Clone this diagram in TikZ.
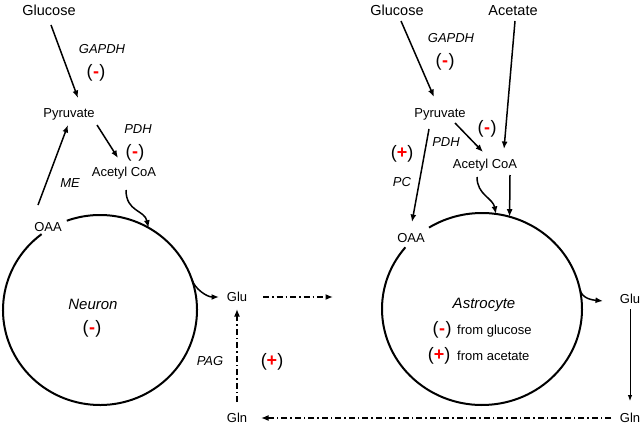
\documentclass[tikz,border=0pt]{standalone}
\usepackage{fontspec}
\setmainfont{Liberation Sans}
\usetikzlibrary{arrows.meta,calc}
\newcommand\sgnminus{(\kern0.5pt\textcolor{red}{\textbf{-}}\kern0.5pt)}
\newcommand\sgnplus{(\textcolor{red}{\textbf{+}})}
\tikzset{
  lbl/.style={inner sep=0pt, text height=9.4pt, text depth=0pt, font=\fontsize{13}{15}\selectfont},
  big/.style={inner sep=0pt, text height=10.4pt, text depth=0pt, font=\fontsize{14.5}{17}\selectfont},
  enz/.style={inner sep=0pt, text height=9.4pt, text depth=0pt, font=\fontsize{13}{15}\selectfont\itshape},
  cell/.style={inner sep=0pt, text height=10.8pt, text depth=0pt, font=\fontsize{15}{18}\selectfont\itshape},
  sgn/.style={inner sep=0pt, text height=13.1pt, text depth=3.8pt, font=\fontsize{18}{20}\selectfont},
  arr/.style={-{Latex[length=7.5pt,width=6pt]}, line width=1.5pt},
  thinarr/.style={-{Latex[length=6pt,width=4.5pt]}, line width=0.9pt},
  cyc/.style={line width=2pt},
  dd/.style={arr, dash pattern=on 6pt off 3pt on 1.5pt off 3pt}
}
\begin{document}
\begin{tikzpicture}[x=1pt,y=1pt]
\useasboundingbox (0,0) rectangle (644,-425);
% ---------------- Neuron ----------------
\node[big] (gluL) at (49,-10) {Glucose};
\node[enz] (gapdhL) at (102,-49) {GAPDH};
\node[sgn] (sL1) at (96,-73) {\sgnminus};
\node[lbl] (pyrL) at (69,-113) {Pyruvate};
\node[enz] (pdhL) at (138,-129) {PDH};
\node[sgn] (sL2) at (135,-153) {\sgnminus};
\node[lbl] (acoaL) at (124,-172) {Acetyl CoA};
\node[enz] (meL) at (70,-183) {ME};
\node[lbl] (oaaL) at (48,-227) {OAA};
\node[cell] (neuron) at (93,-304) {Neuron};
\node[sgn] (sL3) at (92,-329) {\sgnminus};
\node[lbl] (gluN) at (237,-297) {Glu};
\node[enz] (pag) at (210,-361) {PAG};
\node[sgn] (sL4) at (272,-362) {\sgnplus};
\node[lbl] (glnN) at (237,-418) {Gln};
\coordinate (nc) at (100,-310);
\coordinate (gluOut) at (333,-297);

\draw[cyc] ($(nc)+(127:97 and 95)$) arc[start angle=127, end angle=470, x radius=97, y radius=95];

\draw[arr] ([shift={(2,-15)}]gluL.center) -- ([shift={(9,15)}]pyrL.center);
\draw[arr] ([shift={(28,-12)}]pyrL.center) -- ([shift={(-6,14)}]acoaL.center);
\draw[arr] ([shift={(-10,22)}]oaaL.center) -- ([shift={(-1,-12)}]pyrL.center);
\draw[arr] ([shift={(2,-18)}]acoaL.center) .. controls +(0,-22) and +(-4,18) .. ($(nc)+(60:97 and 95)$);
\draw[arr] ($(nc)+(19:97 and 95)$) .. controls +(3,-10) and +(-12,0) .. ([xshift=-18]gluN.center);
\draw[dd] ([xshift=26]gluN.center) -- (gluOut);
\draw[dd] ([yshift=16]glnN.center) -- ([yshift=-12]gluN.center);

% ---------------- Astrocyte ----------------
\node[big] (gluR) at (397,-10) {Glucose};
\node[big] (acetR) at (513,-10) {Acetate};
\node[enz] (gapdhR) at (451,-38) {GAPDH};
\node[sgn] (sR1) at (445,-62) {\sgnminus};
\node[lbl] (pyrR) at (440,-113) {Pyruvate};
\node[sgn] (sR2) at (487,-129) {\sgnminus};
\node[enz] (pdhR) at (446,-142) {PDH};
\node[sgn] (sR3) at (402,-154) {\sgnplus};
\node[enz] (pcR) at (402,-182) {PC};
\node[lbl] (acoaR) at (485,-164) {Acetyl CoA};
\node[lbl] (oaaR) at (411,-238) {OAA};
\node[cell] (astro) at (484,-303) {Astrocyte};
\node[sgn] (sR4) at (442,-330) {\sgnminus};
\node[lbl, anchor=west] (fromG) at (457,-330) {from glucose};
\node[sgn] (sR5) at (439,-356) {\sgnplus};
\node[lbl, anchor=west] (fromA) at (457,-356) {from acetate};
\node[lbl] (gluA) at (630,-299) {Glu};
\node[lbl] (glnR) at (630,-418) {Gln};
\coordinate (ac) at (482,-309);

\draw[cyc] ($(ac)+(140:100 and 96)$) arc[start angle=140, end angle=482, x radius=100, y radius=96];

\draw[arr] ([shift={(4,-11)}]gluR.center) -- ([shift={(-6,16)}]pyrR.center);
\draw[arr] ([shift={(2,-11)}]acetR.center) -- ([shift={(19,15)}]acoaR.center);
\draw[arr] ([shift={(15,-10)}]pyrR.center) -- ([shift={(-2,12)}]acoaR.center);
\draw[arr] ([shift={(-11,-16)}]pyrR.center) -- ([shift={(1,16)}]oaaR.center);
\draw[arr] ([shift={(-8,-13)}]acoaR.center) .. controls +(0,-18) and +(-3,16) .. ($(ac)+(82:100 and 96)$);
\draw[arr] ([shift={(25,-11)}]acoaR.center) -- ($(ac)+(74:100 and 96)$);
\draw[arr] ($(ac)+(12:100 and 96)$) .. controls +(2,-10) and +(-10,1) .. ([shift={(-27,-2)}]gluA.center);
\draw[thinarr] ([yshift=-10]gluA.center) -- ([yshift=17]glnR.center);
\draw[dd] ([xshift=-19]glnR.center) -- ([xshift=24]glnN.center);
\end{tikzpicture}
\end{document}
